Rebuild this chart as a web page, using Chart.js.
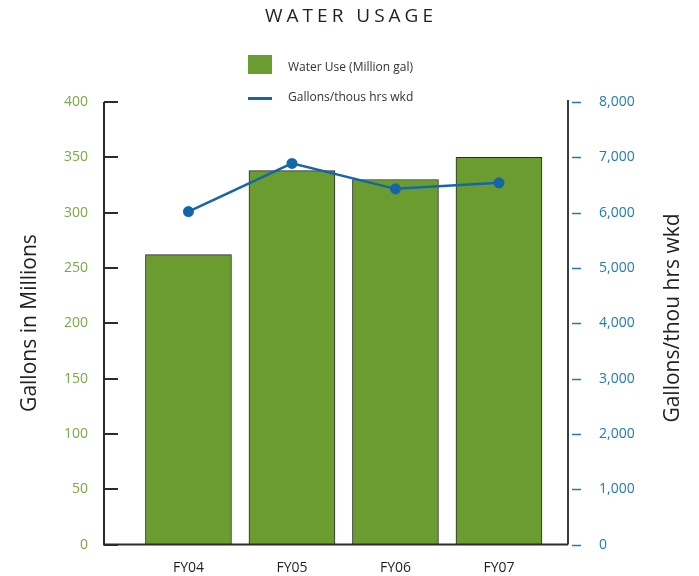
<!DOCTYPE html>
<html>
<head>
<meta charset="utf-8">
<script src="https://cdn.jsdelivr.net/npm/chart.js@4/dist/chart.umd.min.js"></script>
<style>
  html, body { margin: 0; padding: 0; background: #fff; }
  #wrap { width: 699px; height: 576px; }
</style>
</head>
<body>
<div id="wrap"><canvas id="waterChart" width="699" height="576"></canvas></div>
<script>
// Données
const categories = ['FY04', 'FY05', 'FY06', 'FY07'];
const waterUse = [262, 338, 330, 350];            // millions de gallons
const gallonsPerHours = [6020, 6890, 6430, 6540]; // gallons / milliers d'heures
const leftTicks = [0, 50, 100, 150, 200, 250, 300, 350, 400];
const rightTicks = [0, 1000, 2000, 3000, 4000, 5000, 6000, 7000, 8000];

const GREEN = '#6b9c30';
const GREEN_TXT = '#78a944';
const BLUE = '#1566a8';
const BLUE_TXT = '#2579b5';
const DARK = '#231f20';
const FONT = "'Open Sans', sans-serif";

// Titre, légende, axes et titres d'axes dessinés à la main
const decorPlugin = {
  id: 'decor',
  afterDatasetsDraw(chart) {
    const { ctx, chartArea, scales } = chart;
    const yL = scales.y, yR = scales.y1;
    ctx.save();
    ctx.strokeStyle = '#2b2b2b';
    ctx.lineWidth = 2;
    ctx.beginPath();
    ctx.moveTo(chartArea.left, yL.getPixelForValue(400));
    ctx.lineTo(chartArea.left, chartArea.bottom);
    ctx.lineTo(chartArea.right, chartArea.bottom);
    ctx.stroke();
    ctx.strokeStyle = '#3a3a3a';
    ctx.beginPath();
    ctx.moveTo(chartArea.right, yR.getPixelForValue(8000) - 2);
    ctx.lineTo(chartArea.right, chartArea.bottom);
    ctx.stroke();
    // graduations gauche (vers l'intérieur)
    ctx.strokeStyle = '#2b2b2b';
    ctx.beginPath();
    leftTicks.forEach(v => {
      const y = Math.round(yL.getPixelForValue(v));
      ctx.moveTo(chartArea.left, y);
      ctx.lineTo(chartArea.left + 14, y);
    });
    ctx.stroke();
    // graduations droite (bleues, détachées)
    ctx.strokeStyle = BLUE_TXT;
    ctx.lineWidth = 1.5;
    ctx.beginPath();
    rightTicks.forEach(v => {
      const y = Math.round(yR.getPixelForValue(v)) + 0.5;
      ctx.moveTo(chartArea.right + 4, y);
      ctx.lineTo(chartArea.right + 13, y);
    });
    ctx.stroke();
    ctx.restore();
  },
  afterDraw(chart) {
    const { ctx } = chart;
    const [bars, line] = chart.data.datasets;
    ctx.save();
    // titre
    ctx.fillStyle = DARK;
    ctx.font = `19px ${FONT}`;
    ctx.letterSpacing = '4px';
    ctx.textAlign = 'center';
    ctx.textBaseline = 'middle';
    ctx.fillText('WATER USAGE', 351, 17);
    ctx.letterSpacing = '0px';
    // légende
    ctx.fillStyle = bars.backgroundColor;
    ctx.fillRect(248, 55, 24, 19);
    ctx.fillStyle = line.borderColor;
    ctx.fillRect(248, 97, 24, 3);
    ctx.fillStyle = '#333';
    ctx.font = `12px ${FONT}`;
    ctx.textAlign = 'left';
    ctx.fillText(bars.label, 288, 68);
    ctx.fillText(line.label, 288, 98);
    // titres d'axes
    ctx.font = `21px ${FONT}`;
    ctx.fillStyle = DARK;
    ctx.textAlign = 'center';
    ctx.translate(30, 323);
    ctx.rotate(-Math.PI / 2);
    ctx.fillText('Gallons in Millions', 0, 0);
    ctx.rotate(Math.PI / 2);
    ctx.translate(643, -5);
    ctx.rotate(-Math.PI / 2);
    ctx.fillText('Gallons/thou hrs wkd', 0, 0);
    ctx.restore();
  }
};

const config = {
  data: {
    datasets: [
      {
        type: 'bar',
        label: 'Water Use (Million gal)',
        data: waterUse.map((v, i) => ({ x: i + 1, y: v })),
        backgroundColor: GREEN,
        borderColor: '#2a2a2a',
        borderWidth: 1,
        barThickness: 86,
        yAxisID: 'y',
        order: 2
      },
      {
        type: 'line',
        label: 'Gallons/thous hrs wkd',
        data: gallonsPerHours.map((v, i) => ({ x: i + 1, y: v })),
        borderColor: BLUE,
        backgroundColor: BLUE,
        borderWidth: 2.5,
        pointRadius: 5.5,
        pointBackgroundColor: BLUE,
        pointBorderWidth: 0,
        yAxisID: 'y1',
        order: 1
      }
    ]
  },
  options: {
    responsive: false,
    animation: false,
    layout: { padding: { top: 102, left: 0, right: 0, bottom: 0 } },
    plugins: {
      legend: { display: false },
      tooltip: { enabled: false },
      title: { display: false }
    },
    scales: {
      x: {
        type: 'linear',
        bounds: 'data',
        offset: false,
        min: 0.184,
        max: 4.667,
        grid: { display: false, offset: false },
        border: { display: false },
        afterBuildTicks: s => { s.ticks = categories.map((c, i) => ({ value: i + 1 })); },
        afterFit: s => { s.height = 30; },
        ticks: {
          color: DARK,
          font: { family: FONT, size: 14 },
          padding: 7,
          maxRotation: 0,
          callback: v => categories[v - 1]
        }
      },
      y: {
        position: 'left',
        min: 0,
        max: 400,
        grid: { display: false },
        border: { display: false },
        afterBuildTicks: s => { s.ticks = leftTicks.map(v => ({ value: v })); },
        afterFit: s => { s.width = 104; },
        ticks: {
          color: GREEN_TXT,
          font: { family: FONT, size: 14 },
          padding: 8
        }
      },
      y1: {
        position: 'right',
        min: 0,
        max: 8000,
        grid: { display: false },
        border: { display: false },
        afterBuildTicks: s => { s.ticks = rightTicks.map(v => ({ value: v })); },
        afterFit: s => { s.width = 131; },
        ticks: {
          color: BLUE_TXT,
          font: { family: FONT, size: 14 },
          padding: 23,
          callback: v => v.toLocaleString('en-US')
        }
      }
    }
  },
  plugins: [decorPlugin]
};

new Chart(document.getElementById('waterChart'), config);
</script>
</body>
</html>
